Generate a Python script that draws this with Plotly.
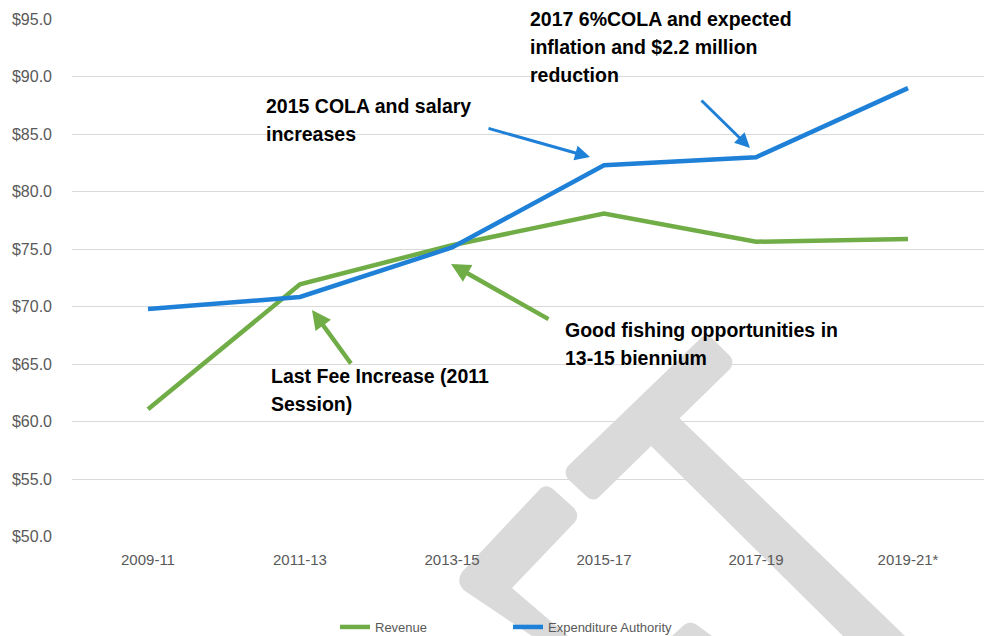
import plotly.graph_objects as go

# ---- data ----
categories = ["2009-11", "2011-13", "2013-15", "2015-17", "2017-19", "2019-21*"]
revenue = [61.1, 71.95, 75.35, 78.1, 75.65, 75.9]
expenditure = [69.8, 70.85, 75.15, 82.3, 83.0, 89.0]

series_names = ["Revenue", "Expenditure Authority"]

# ---- styling constants ----
W, H = 987, 636
L, R, T, B = 72, 3, 19, 99
PW, PH = W - L - R, H - T - B
GREEN = "#70AD47"
BLUE = "#1F80D8"
GRAY_TXT = "#595959"
FONT = "Liberation Sans, Arial, sans-serif"


def P(X, Y):
    """pixel -> paper coordinates"""
    return (X - L) / PW, (T + PH - Y) / PH


def path(cmds):
    out = []
    for c in cmds:
        if isinstance(c, str):
            out.append(c)
        else:
            x, y = P(*c)
            out.append(f"{x:.5f},{y:.5f}")
    return " ".join(out)


fig = go.Figure()
fig.add_trace(go.Scatter(x=categories, y=revenue, name=series_names[0], mode="lines",
                         line=dict(color=GREEN, width=4.5)))
fig.add_trace(go.Scatter(x=categories, y=expenditure, name=series_names[1], mode="lines",
                         line=dict(color=BLUE, width=4.5)))

# ---- background watermark ----
WM = "#DADADA"
wm_paths = [
    # crossbar
    ["M", (702, 337), "Q", (708, 334), (714, 340), "L", (730, 356), "Q", (735, 362), (730, 369),
     "L", (598, 498), "Q", (592, 502), (586, 496), "L", (568, 479), "Q", (563, 472), (568, 466), "Z"],
    # stem
    ["M", (644, 439), "L", (672, 411), "L", (905, 636), "L", (843, 636), "Z"],
    # chevron
    ["M", (541, 488), "Q", (547, 484), (553, 489), "L", (574, 508), "Q", (580, 515), (575, 522),
     "L", (512, 588), "L", (568, 636), "L", (532, 636), "L", (465, 591), "Q", (455, 583), (462, 572), "Z"],
    # small piece at bottom
    ["M", (672, 636), "L", (684, 625), "Q", (690, 620), (697, 625), "L", (712, 636), "Z"],
]
for p in wm_paths:
    fig.add_shape(type="path", path=path(p), xref="paper", yref="paper",
                  fillcolor=WM, line=dict(width=0), layer="below")

# ---- text annotations (one per line) ----
text_lines = [
    ("2015 COLA and salary", 264, 106),
    ("increases", 264, 134),
    ("2017 6%COLA and expected", 528, 19),
    ("inflation and $2.2 million", 528, 47),
    ("reduction", 528, 75),
    ("Good fishing opportunities in", 563, 330),
    ("13-15 biennium", 563, 358),
    ("Last Fee Increase (2011", 269, 376),
    ("Session)", 269, 404),
]
for txt, X, Y in text_lines:
    x, y = P(X, Y)
    fig.add_annotation(text=f"<b>{txt}</b>", x=x, y=y, xref="paper", yref="paper",
                       xanchor="left", yanchor="middle", showarrow=False,
                       font=dict(family=FONT, size=19.5, color="#000000"))

# ---- arrows (tail -> tip, pixel positions) ----
arrows = [
    ((487, 128), (590, 157), BLUE, 3, 1.0),
    ((700, 99), (750, 148), BLUE, 3, 1.0),
    ((550, 320), (451, 264), GREEN, 4.5, 0.85),
    ((352, 365), (312, 310), GREEN, 4.5, 0.85),
]
for (tx, ty), (hx, hy), col, w, s in arrows:
    x, y = P(hx, hy)
    fig.add_annotation(text="", x=x, y=y, xref="paper", yref="paper",
                       ax=tx - hx, ay=ty - hy, axref="pixel", ayref="pixel",
                       showarrow=True, arrowhead=2, arrowsize=s,
                       arrowwidth=w, arrowcolor=col, standoff=0)

fig.update_layout(
    width=W, height=H, autosize=False,
    margin=dict(l=L, r=R, t=T, b=B, pad=0, autoexpand=False),
    paper_bgcolor="white", plot_bgcolor="white",
    font=dict(family=FONT, color=GRAY_TXT),
    showlegend=True,
    legend=dict(orientation="h", x=(335 - L) / PW, xanchor="left",
                y=(T + PH - 627) / PH, yanchor="middle",
                font=dict(size=13, color=GRAY_TXT), entrywidth=128, entrywidthmode="pixels",
                bgcolor="rgba(0,0,0,0)"),
)
fig.update_xaxes(type="category", range=[-0.5, len(categories) - 0.5],
                 showgrid=False, zeroline=False, showline=False, automargin=False,
                 ticks="", tickfont=dict(size=15, color=GRAY_TXT), ticklabelstandoff=12)
fig.update_yaxes(range=[49.99, 95.01], dtick=5, tick0=50, tickprefix="$", tickformat=".1f",
                 showgrid=True, gridcolor="#D9D9D9", gridwidth=1, zeroline=False, automargin=False,
                 showline=False, ticks="", tickfont=dict(size=16, color=GRAY_TXT),
                 ticklabelstandoff=19)

fig.write_html("out.html", config={"displayModeBar": False},
               post_script="document.body.style.margin='0';document.body.style.overflow='hidden';")
